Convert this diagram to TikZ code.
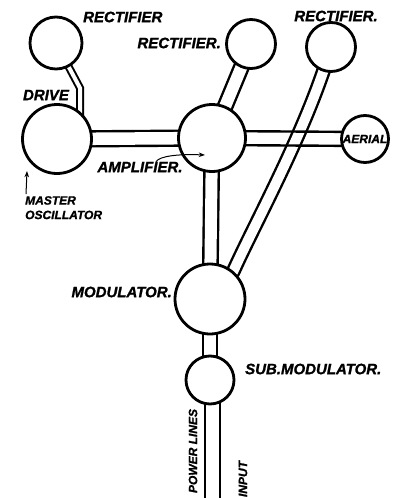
\documentclass[tikz,border=0pt]{standalone}
\usepackage{fontspec}
\setmainfont{Liberation Sans}[BoldItalicFeatures={FakeBold=1.3}]
\usetikzlibrary{arrows.meta,positioning,backgrounds}

\begin{document}
\begin{tikzpicture}[x=1pt,y=-1pt,every node/.style={font=\bfseries\itshape\fontsize{15}{16}\selectfont,inner sep=0pt},sm/.style={font=\bfseries\itshape\fontsize{12}{14.5}\selectfont},stage/.style={circle,draw,line width=2.8pt,fill=white},tube/.style={draw,line width=2.4pt,double=white,double distance=12pt},wire/.style={line width=2.4pt},ptr/.style={-{Stealth[length=2.2mm,width=1.6mm]},line width=1pt}]
\useasboundingbox (0,0) rectangle (400,498);
\node[stage,minimum size=52pt] (rl) at (56,43) {};
\node[stage,minimum size=69pt] (osc) at (57,139) {};
\node[stage,minimum size=67pt] (amp) at (212,138) {};
\node[stage,minimum size=49pt] (rm) at (251,44) {};
\node[stage,minimum size=49pt] (rr) at (331,47) {};
\node[stage,sm,minimum size=47pt] (aer) at (365,139) {AERIAL};
\node[stage,minimum size=70pt] (mod) at (210,299) {};
\node[stage,minimum size=48pt] (sub) at (210,380) {};
\node[anchor=west] (t1) at (83,17) {RECTIFIER};
\node[anchor=east] (t2) at (221,43) {RECTIFIER.};
\node (t3) at (336,16) {RECTIFIER.};
\node (t4) at (46,95) {DRIVE};
\node (t5) at (140,167) {AMPLIFIER.};
\node[sm,anchor=north west,align=left] (t6) at (25,196) {MASTER\\OSCILLATOR};
\node[anchor=east] (t7) at (172,292) {MODULATOR.};
\node[anchor=west] (t8) at (245,369) {SUB.MODULATOR.};
\node[sm,rotate=90] (t9) at (193,451) {POWER LINES};
\node[sm,rotate=90] (t10) at (243,479) {INPUT};
\coordinate (bend) at (80,88);
\coordinate (pl) at (205,498);
\coordinate (ip) at (220,498);
\coordinate (tip) at (205,155);
\begin{pgfonlayer}{background}
\fill[white] (0,0) rectangle (400,498);
\draw[tube,line width=2pt,double distance=4pt] (rl.center) -- (bend) -- (bend |- osc.center);
\draw[tube,double distance=12.5pt] (osc.center) -- (amp.center);
\draw[tube] (rm.center) -- (amp.center);
\draw[tube] (amp.center) -- (mod.center); \draw[tube] (mod.center) -- (sub.center);
\draw[tube,double distance=10pt] (rr.center) .. controls (308,127) and (256,221) .. (mod.50) -- (mod.center);
\draw[wire,transform canvas={yshift=7pt}] (amp.center) -- (aer.center);
\draw[wire,transform canvas={yshift=-7pt}] (amp.center) -- (aer.center);
\draw[wire] (pl) -- (pl |- sub.center); \draw[wire] (ip) -- (ip |- sub.center);
\end{pgfonlayer}
\draw[ptr] ([xshift=16pt]t5.north) .. controls +(4,-6) and +(-25,-1) .. (tip);
\draw[ptr] ([xshift=1pt,yshift=2pt]t6.north west) -- ++(1,-23);
\end{tikzpicture}
\end{document}
